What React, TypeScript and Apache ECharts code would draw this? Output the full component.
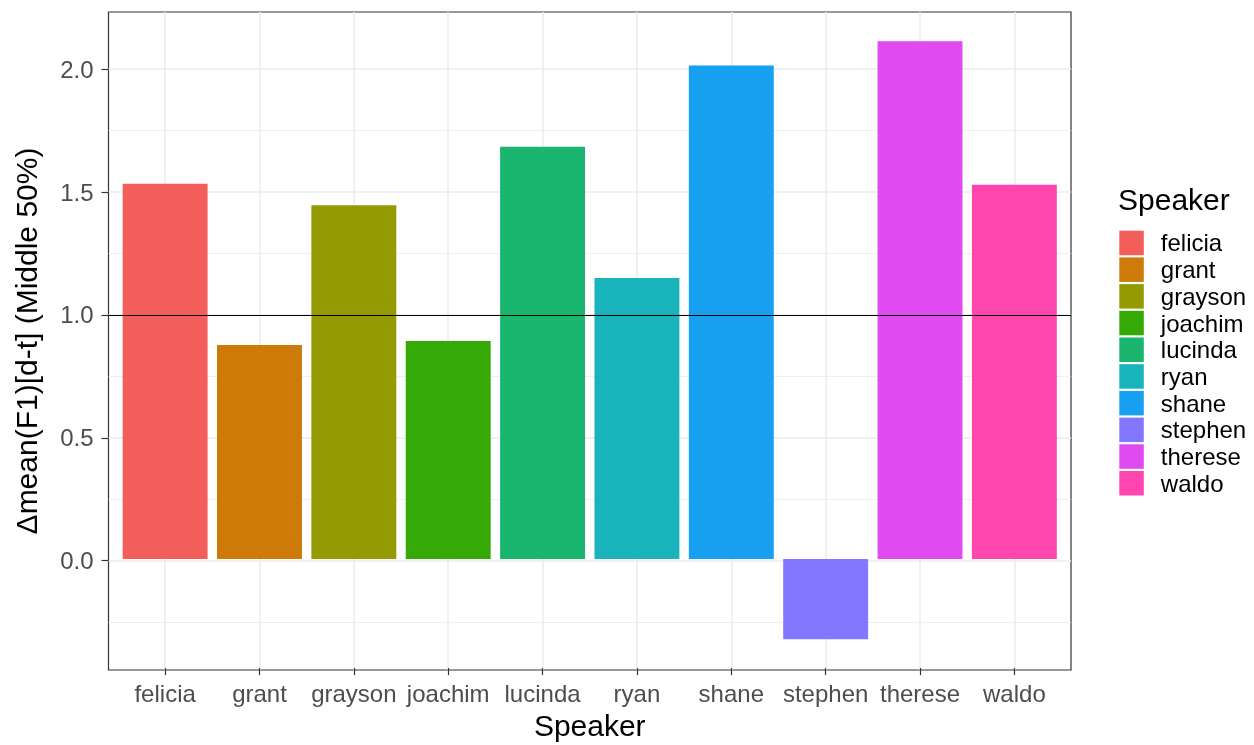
import React, { useEffect, useRef } from "react";
import * as echarts from "echarts";

// Speakers and their Δmean(F1)[d-t] values (middle 50%)
const CATEGORIES = [
  "felicia",
  "grant",
  "grayson",
  "joachim",
  "lucinda",
  "ryan",
  "shane",
  "stephen",
  "therese",
  "waldo",
];
const VALUES = [1.532, 0.874, 1.444, 0.89, 1.683, 1.147, 2.015, -0.327, 2.114, 1.528];
const COLORS = [
  "#F35E5B",
  "#CD7A08",
  "#949A02",
  "#35AA06",
  "#1AB56E",
  "#19B3BC",
  "#179FF0",
  "#8377FF",
  "#DF4BF0",
  "#FF46AE",
];
const Y_TICKS = [0, 0.5, 1.0, 1.5, 2.0];
const Y_MIN = -0.445;
const Y_MAX = 2.233;
const REF_VALUE = 1;

const FONT = "'Liberation Sans', Arial, Helvetica, sans-serif";

// panel geometry (discrete axis padded by 0.6 of a band on each side)
const PANEL_LEFT = 108.5;
const PANEL_TOP = 12;
const PANEL_WIDTH = 962.5;
const PANEL_HEIGHT = 658;
const X_PAD = 0.6;
const BAND = PANEL_WIDTH / (CATEGORIES.length - 1 + 2 * X_PAD);
const INNER_LEFT = PANEL_LEFT + (X_PAD - 0.5) * BAND;
const INNER_WIDTH = BAND * CATEGORIES.length;

const GRID_MAJOR = { color: "#ebebeb", width: 1.5 };
const GRID_MINOR = { color: "#ebebeb", width: 0.8 };
const TICK_STYLE = { color: "#333333", width: 1.2 };

export default function App() {
  const ref = useRef<HTMLDivElement>(null);

  useEffect(() => {
    if (!ref.current) return;
    const chart = echarts.init(ref.current, undefined, { renderer: "svg" });

    const barSeries = CATEGORIES.map((name, i) => ({
      type: "bar",
      name,
      xAxisIndex: 1,
      yAxisIndex: 1,
      stack: "speaker",
      barWidth: "90%",
      itemStyle: { color: COLORS[i] },
      emphasis: { disabled: true },
      data: VALUES.map((v, j) => (j === i ? v : null)),
    }));

    chart.setOption({
      animation: false,
      textStyle: { fontFamily: FONT },
      title: {
        text: "Speaker",
        left: 1118,
        top: 184.6,
        padding: 0,
        textStyle: {
          fontFamily: FONT,
          fontSize: 30,
          fontWeight: "normal",
          color: "#000000",
          lineHeight: 30,
        },
      },
      legend: {
        data: CATEGORIES,
        orient: "vertical",
        left: 1119.3,
        top: 230.7,
        padding: 0,
        icon: "rect",
        itemWidth: 24.5,
        itemHeight: 24.5,
        itemGap: 2.2,
        selectedMode: false,
        textStyle: {
          fontFamily: FONT,
          fontSize: 24,
          color: "#000000",
          lineHeight: 24,
          padding: [0, 0, 0, 12],
        },
      },
      grid: [
        {
          left: PANEL_LEFT,
          top: PANEL_TOP,
          width: PANEL_WIDTH,
          height: PANEL_HEIGHT,
          show: true,
          borderColor: "#333333",
          borderWidth: 1.2,
          backgroundColor: "#ffffff",
        },
        {
          left: INNER_LEFT,
          top: PANEL_TOP,
          width: INNER_WIDTH,
          height: PANEL_HEIGHT,
        },
      ],
      xAxis: [
        {
          type: "value",
          gridIndex: 0,
          min: -X_PAD,
          max: CATEGORIES.length - 1 + X_PAD,
          axisLine: { show: false, onZero: false },
          axisTick: { show: false, customValues: CATEGORIES.map((_, i) => i) },
          axisLabel: { show: false },
          splitLine: { show: true, lineStyle: GRID_MAJOR },
        },
        {
          type: "category",
          gridIndex: 1,
          position: "bottom",
          data: CATEGORIES,
          axisLine: { show: false, onZero: false },
          axisTick: {
            show: true,
            alignWithLabel: true,
            length: 7,
            lineStyle: TICK_STYLE,
          },
          axisLabel: {
            interval: 0,
            color: "#4d4d4d",
            fontSize: 24,
            lineHeight: 24,
            margin: 13,
            fontFamily: FONT,
          },
          splitLine: { show: false },
          name: "Speaker",
          nameLocation: "middle",
          nameGap: 41,
          nameTextStyle: {
            fontFamily: FONT,
            fontSize: 30,
            color: "#000000",
            lineHeight: 30,
          },
        },
      ],
      yAxis: [
        {
          type: "value",
          gridIndex: 0,
          position: "left",
          min: Y_MIN,
          max: Y_MAX,
          splitNumber: 5,
          axisLine: { show: false, onZero: false },
          axisTick: {
            show: true,
            length: 7,
            lineStyle: TICK_STYLE,
            customValues: Y_TICKS,
          },
          axisLabel: {
            customValues: Y_TICKS,
            formatter: (v: number) => v.toFixed(1),
            color: "#4d4d4d",
            fontSize: 24,
            margin: 15,
            fontFamily: FONT,
          },
          splitLine: { show: true, lineStyle: GRID_MAJOR },
          minorTick: { show: false, splitNumber: 2 },
          minorSplitLine: { show: true, lineStyle: GRID_MINOR },
          name: "Δmean(F1)[d-t] (Middle 50%)",
          nameLocation: "middle",
          nameGap: 67,
          nameTextStyle: {
            fontFamily: FONT,
            fontSize: 30,
            color: "#000000",
            lineHeight: 30,
          },
        },
        {
          type: "value",
          gridIndex: 1,
          min: Y_MIN,
          max: Y_MAX,
          show: false,
          axisLine: { onZero: false },
          splitLine: { show: false },
        },
      ],
      series: [
        ...barSeries,
        {
          type: "line",
          name: "reference",
          xAxisIndex: 0,
          yAxisIndex: 0,
          data: [],
          z: 5,
          markLine: {
            silent: true,
            symbol: "none",
            label: { show: false },
            lineStyle: { color: "#000000", width: 1.2, type: "solid" },
            data: [{ yAxis: REF_VALUE }],
          },
        },
      ],
    });

    return () => chart.dispose();
  }, []);

  return (
    <div
      ref={ref}
      style={{ position: "fixed", left: 0, top: 0, width: 1254, height: 745 }}
    />
  );
}
